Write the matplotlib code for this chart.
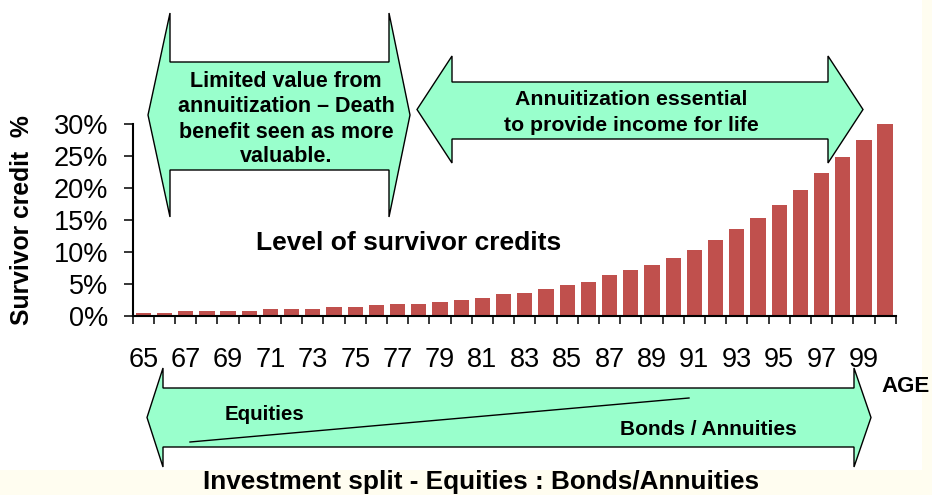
import matplotlib
matplotlib.use("Agg")
import matplotlib.pyplot as plt
from matplotlib.patches import Polygon, Rectangle
from matplotlib.lines import Line2D
import numpy as np

plt.rcParams['font.family'] = ['Liberation Sans', 'DejaVu Sans']

# ---- data ----
ages = list(range(65, 101))
survivor_credit = [0.47, 0.47, 0.74, 0.74, 0.74, 0.74, 1.05, 1.05, 1.05, 1.3,
                   1.3, 1.6, 1.9, 1.9, 2.2, 2.5, 2.8, 3.4, 3.6, 4.2,
                   4.8, 5.3, 6.3, 7.1, 7.9, 9.1, 10.3, 11.8, 13.5, 15.3,
                   17.3, 19.7, 22.3, 24.9, 27.5, 30.0]
y_ticks = [0, 5, 10, 15, 20, 25, 30]
y_tick_labels = ["0%", "5%", "10%", "15%", "20%", "25%", "30%"]
x_label_ages = list(range(65, 100, 2))

W, H = 932, 495
fig = plt.figure(figsize=(W / 100, H / 100), dpi=100)
fig.patch.set_facecolor('#FFFDF0')


def P(x, y):
    return (x / W, 1 - y / H)


# white picture area
fig.add_artist(Rectangle(P(0, 470), 922 / W, 470 / H, transform=fig.transFigure,
                         facecolor='white', edgecolor='none', zorder=-10))

# axes
left, right, top, bottom = 132.7, 895.7, 124.0, 315.7
ax = fig.add_axes([left / W, 1 - bottom / H, (right - left) / W, (bottom - top) / H])
ax.set_facecolor('none')
xpos = np.arange(len(ages))
ax.bar(xpos, survivor_credit, width=0.72, color='#C0504D', zorder=2)
ax.set_xlim(-0.5, len(ages) - 0.5)
ax.set_ylim(0, 30)
for s in ['top', 'right']:
    ax.spines[s].set_visible(False)
for s in ['left', 'bottom']:
    ax.spines[s].set_linewidth(1.5)
    ax.spines[s].set_color('black')

ax.set_yticks(y_ticks)
ax.set_yticklabels(y_tick_labels, fontsize=19.5)
ax.tick_params(axis='y', length=6.5, width=1.1, pad=11, direction='out')

label_idx = [ages.index(a) for a in x_label_ages]
ax.set_xticks(label_idx)
ax.set_xticklabels([str(a) for a in x_label_ages], fontsize=19.5)
ax.tick_params(axis='x', which='major', length=0, pad=22.5)
ax.set_xticks(np.arange(-0.5, len(ages), 1.0), minor=True)
ax.tick_params(axis='x', which='minor', length=6, width=1.1, direction='out')

# y label
fig.text(*P(22, 220), "Survivor credit  %", rotation=90, ha='center', va='center',
         fontsize=17.8, fontweight='bold')

# arrows
def lr_arrow(xl, xlb, xrb, xr, ytop, ybt, ybb, ybot):
    ymid = (ytop + ybot) / 2
    pts = [(xl, ymid), (xlb, ytop), (xlb, ybt), (xrb, ybt), (xrb, ytop), (xr, ymid),
           (xrb, ybot), (xrb, ybb), (xlb, ybb), (xlb, ybot)]
    poly = Polygon([P(x, y) for x, y in pts], closed=True, transform=fig.transFigure,
                   facecolor='#99FFCC', edgecolor='black', linewidth=1.0, zorder=5)
    fig.add_artist(poly)


lr_arrow(148, 170, 389, 410, 13, 62, 170, 217)
lr_arrow(417, 452, 828, 863, 56, 82, 139, 163)
lr_arrow(147, 163, 854, 871, 368, 388, 447, 467)

# diagonal split line
x0, y0 = P(190, 442)
x1, y1 = P(689, 398)
fig.add_artist(Line2D([x0, x1], [y0, y1], transform=fig.transFigure, color='black',
                      linewidth=1.0, zorder=6))

# texts
arrow1_lines = ["Limited value from", "annuitization \u2013 Death", "benefit seen as more", "valuable."]
for line, yb in zip(arrow1_lines, [87.3, 112.5, 137.5, 162]):
    fig.text(*P(286, yb), line, ha='center', va='baseline', fontsize=15.5,
             fontweight='bold', zorder=7)

arrow2_lines = ["Annuitization essential", "to provide income for life"]
for line, yb in zip(arrow2_lines, [105, 130.7]):
    fig.text(*P(631, yb), line, ha='center', va='baseline', fontsize=15.3,
             fontweight='bold', zorder=7)

fig.text(*P(409, 250), "Level of survivor credits", ha='center', va='baseline',
         fontsize=19, fontweight='bold', zorder=7)
fig.text(*P(264, 420), "Equities", ha='center', va='baseline', fontsize=14.8,
         fontweight='bold', zorder=7)
fig.text(*P(708, 435), "Bonds / Annuities", ha='center', va='baseline', fontsize=15,
         fontweight='bold', zorder=7)
fig.text(*P(881, 391.7), "AGE", ha='left', va='baseline', fontsize=16,
         fontweight='bold', zorder=7)
fig.text(*P(481.5, 488.7), "Investment split - Equities : Bonds/Annuities", ha='center',
         va='baseline', fontsize=18.8, fontweight='bold', zorder=7)

fig.savefig("out.png", dpi=100, facecolor=fig.get_facecolor())
